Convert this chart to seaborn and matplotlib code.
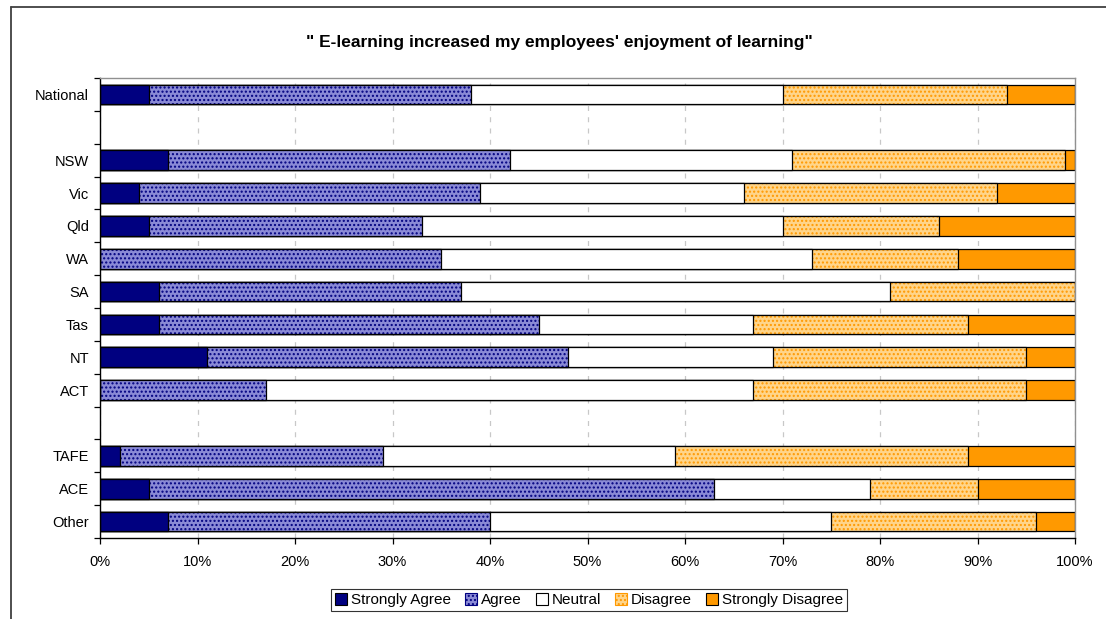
import numpy as np
import pandas as pd
import matplotlib
matplotlib.use("Agg")
import matplotlib.pyplot as plt
from matplotlib.patches import Patch
from matplotlib.lines import Line2D
import seaborn as sns

# Data (percent of respondents)
groups = ["National", "NSW", "Vic", "Qld", "WA", "SA", "Tas", "NT", "ACT", "TAFE", "ACE", "Other"]
order = ["National", "gap1", "NSW", "Vic", "Qld", "WA", "SA", "Tas", "NT", "ACT", "gap2", "TAFE", "ACE", "Other"]
strongly_agree = [5, 7, 4, 5, 0, 6, 6, 11, 0, 2, 5, 7]
agree = [33, 35, 35, 28, 35, 31, 39, 37, 17, 27, 58, 33]
neutral = [32, 29, 27, 37, 38, 44, 22, 21, 50, 30, 16, 35]
disagree = [23, 28, 26, 16, 15, 19, 22, 26, 28, 30, 11, 21]
strongly_disagree = [7, 1, 8, 14, 12, 0, 11, 5, 5, 11, 10, 4]

series = ["Strongly Agree", "Agree", "Neutral", "Disagree", "Strongly Disagree"]
faces = ["#000080", "#8a8ad6", "#ffffff", "#ffd58a", "#ff9900"]
hatch_cols = ["#000080", "#000080", "#ffffff", "#ff9900", "#ff9900"]
hatches = [None, "....", None, "....", None]

df = pd.DataFrame({"group": groups,
                   "Strongly Agree": strongly_agree, "Agree": agree, "Neutral": neutral,
                   "Disagree": disagree, "Strongly Disagree": strongly_disagree})
cum = df[series].cumsum(axis=1) / 100.0
cum["group"] = df["group"]

sns.set_style("white")
plt.rcParams["font.family"] = ["Liberation Sans", "DejaVu Sans"]
plt.rcParams["hatch.linewidth"] = 1.0
plt.rcParams["text.color"] = "black"
plt.rcParams["xtick.color"] = "black"
plt.rcParams["ytick.color"] = "black"
plt.rcParams["axes.labelcolor"] = "black"

fig = plt.figure(figsize=(11.06, 6.19), dpi=100)
ax = fig.add_axes([100 / 1106, 1 - 538 / 619, 975 / 1106, 460 / 619])

# draw from the longest cumulative segment to the shortest
for i in range(len(series) - 1, -1, -1):
    name = series[i]
    sns.barplot(data=cum, x=name, y="group", order=order, orient="h", ax=ax,
                color=faces[i], saturation=1, width=0.6, linewidth=0,
                edgecolor=hatch_cols[i], hatch=hatches[i], errorbar=None)
    sns.barplot(data=cum, x=name, y="group", order=order, orient="h", ax=ax,
                color="black", fill=False, saturation=1, width=0.6, linewidth=0.9,
                errorbar=None)

ax.set_xlim(0, 1)
ax.set_ylim(len(order) - 0.5, -0.5)
ax.set_xlabel("")
ax.set_ylabel("")

xt = np.arange(0, 1.01, 0.1)
ax.set_xticks(xt)
ax.set_xticklabels([f"{int(round(v * 100))}%" for v in xt], fontsize=10.5)
ax.set_yticks(np.arange(-0.5, len(order)), minor=False)
ax.set_yticklabels([])
ax.set_yticks(np.arange(len(order)), minor=True)
ax.set_yticklabels([g if not g.startswith("gap") else "" for g in order], minor=True, fontsize=10.5)
ax.tick_params(axis="y", which="major", length=4, width=0.9, direction="out", color="black", left=True)
ax.tick_params(axis="y", which="minor", length=0, pad=8)
ax.tick_params(axis="x", length=4, width=0.9, direction="out", color="black", bottom=True, pad=8)

ax.xaxis.grid(True, linestyle=(0, (4, 5)), color="#c8c8c8", linewidth=0.9)
ax.yaxis.grid(False)
ax.set_axisbelow(True)

for side in ["top", "right"]:
    ax.spines[side].set_color("#909090")
    ax.spines[side].set_linewidth(1.0)
for side in ["left", "bottom"]:
    ax.spines[side].set_color("black")
    ax.spines[side].set_linewidth(1.0)

fig.text(0.506, 1 - 42 / 619, "\" E-learning increased my employees' enjoyment of learning\"",
         ha="center", va="center", fontsize=12.5, fontweight="bold", color="black")

handles = [Patch(facecolor=faces[i], edgecolor=hatch_cols[i] if hatches[i] else "black",
                 hatch=hatches[i], linewidth=0.8) for i in range(len(series))]
handles[2] = Patch(facecolor="white", edgecolor="black", linewidth=0.8)
leg = fig.legend(handles, series, loc="center", bbox_to_anchor=(589 / 1106, 1 - 600 / 619),
                 ncol=5, frameon=True, fancybox=False, edgecolor="black", fontsize=11,
                 handlelength=0.8, handleheight=0.8, handletextpad=0.25, columnspacing=0.9,
                 borderpad=0.25, borderaxespad=0)
leg.get_frame().set_linewidth(0.8)

# outer chart frame
fig.add_artist(Line2D([11 / 1106, 11 / 1106], [0, 1 - 7 / 619], color="#404040", linewidth=1.3))
fig.add_artist(Line2D([11 / 1106, 1], [1 - 7 / 619, 1 - 7 / 619], color="#404040", linewidth=1.3))

fig.savefig("out.png", dpi=100)
